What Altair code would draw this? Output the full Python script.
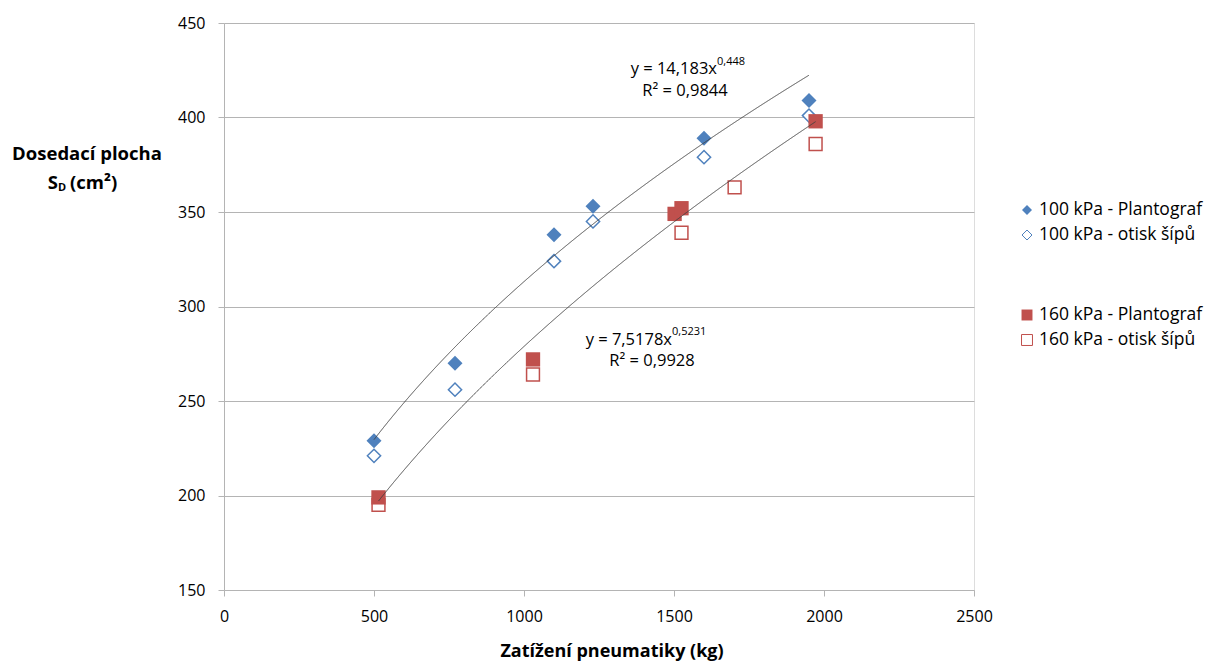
import altair as alt
import pandas as pd

# ---- data ----
x_100 = [500, 770, 1100, 1230, 1600, 1950]
y_100_plantograf = [229, 270, 338, 353, 389, 409]
y_100_otisk = [221, 256, 324, 345, 379, 401]

x_160_plantograf = [515, 1030, 1502, 1525, 1972]
y_160_plantograf = [199, 272, 349, 352, 398]
x_160_otisk = [515, 1030, 1525, 1702, 1972]
y_160_otisk = [195, 264, 339, 363, 386]

series_names = ["100 kPa - Plantograf", "100 kPa - otisk šípů",
                "160 kPa - Plantograf", "160 kPa - otisk šípů"]

# trendline equations shown in the chart (power fits)
trend_100 = {"a": 14.183, "b": 0.448, "x0": 500, "x1": 1950}
trend_160 = {"a": 7.5178, "b": 0.5231, "x0": 515, "x1": 1972}

x_ticks = [0, 500, 1000, 1500, 2000, 2500]
y_ticks = [150, 200, 250, 300, 350, 400, 450]

FONT = "Open Sans"
BLUE = "#4F81BD"
RED = "#C0504D"
GRID = "#B4B4B4"

rows = []
for x, y in zip(x_100, y_100_plantograf):
    rows.append({"x": x, "y": y, "s": series_names[0]})
for x, y in zip(x_100, y_100_otisk):
    rows.append({"x": x, "y": y, "s": series_names[1]})
for x, y in zip(x_160_plantograf, y_160_plantograf):
    rows.append({"x": x, "y": y, "s": series_names[2]})
for x, y in zip(x_160_otisk, y_160_otisk):
    rows.append({"x": x, "y": y, "s": series_names[3]})
df = pd.DataFrame(rows)

xscale = alt.Scale(domain=[0, 2500], nice=False, zero=False)
yscale = alt.Scale(domain=[150, 450], nice=False, zero=False)

xenc = alt.X("x:Q", scale=xscale, axis=alt.Axis(
    values=x_ticks, format="d", title=None, grid=False, domainColor=GRID, tickColor=GRID,
    tickSize=6, labelPadding=12, labelFontSize=16, labelFont=FONT,
    labelColor="#000000", domainWidth=1, labelFlush=False))
yenc = alt.Y("y:Q", scale=yscale, axis=alt.Axis(
    values=y_ticks, format="d", title=None, grid=True, gridColor=GRID, domainColor=GRID,
    tickColor=GRID, tickSize=6, labelPadding=13, labelFontSize=16,
    labelFont=FONT, labelColor="#000000", domainWidth=1, labelFlush=False))

base = alt.Chart(df)


def pts(name, shape, color, filled, size):
    return base.transform_filter(alt.datum.s == name).mark_point(
        shape=shape, filled=filled, color=color, size=size,
        fill=color if filled else "white", stroke=color,
        strokeWidth=0 if filled else 1.5, opacity=1
    ).encode(x=xenc, y=yenc)


p100o = pts(series_names[1], "diamond", BLUE, False, 175)
p160o = pts(series_names[3], "square", RED, False, 165)
p100p = pts(series_names[0], "diamond", BLUE, True, 225)
p160p = pts(series_names[2], "square", RED, True, 205)


def trend(t):
    return alt.Chart(alt.sequence(t["x0"], t["x1"] + 1, 1, as_="x")).transform_calculate(
        y=f"{t['a']} * pow(datum.x, {t['b']})"
    ).mark_line(color="#404040", strokeWidth=1).encode(
        x=alt.X("x:Q", scale=xscale), y=alt.Y("y:Q", scale=yscale))


l100 = trend(trend_100)
l160 = trend(trend_160)

one = alt.Data(values=[{}])


def txt(t, x, y, size=14, bold=False, align="left", baseline="middle"):
    return alt.Chart(one).mark_text(
        text=t, font=FONT, fontSize=size, fontWeight="bold" if bold else "normal",
        align=align, baseline=baseline, color="#000000"
    ).encode(x=alt.value(x), y=alt.value(y))


L = 224
T = 23
annots = [
    # trend equations
    txt("y = 14,183x", 717 - L, 69 - T, size=16.5, align="right"),
    txt("0,448", 717 - L, 62 - T, size=11, align="left"),
    txt("R² = 0,9844", 685 - L, 91 - T, size=16.5, align="center"),
    txt("y = 7,5178x", 672 - L, 340 - T, size=16.5, align="right"),
    txt("0,5231", 672 - L, 332 - T, size=11, align="left"),
    txt("R² = 0,9928", 652 - L, 361 - T, size=16.5, align="center"),
    # axis titles
    txt("Zatížení pneumatiky (kg)", 612 - L, 652 - T, size=18, bold=True, align="center"),
    txt("Dosedací plocha", 87 - L, 154 - T, size=18.5, bold=True, align="center"),
    txt("S", 58 - L, 183 - T, size=18.5, bold=True, align="right"),
    txt("D", 58 - L, 188 - T, size=11, bold=True, align="left"),
    txt("(cm²)", 70 - L, 183 - T, size=18.5, bold=True, align="left"),
]

# legend
leg_items = [
    (series_names[0], "diamond", BLUE, True, 210),
    (series_names[1], "diamond", BLUE, False, 235),
    (series_names[2], "square", RED, True, 315),
    (series_names[3], "square", RED, False, 340),
]
legend_layers = []
for name, shape, color, filled, yy in leg_items:
    legend_layers.append(
        alt.Chart(one).mark_point(
            shape=shape, filled=filled, size=100 if shape == "diamond" else 120,
            fill=color if filled else "white", stroke=color,
            strokeWidth=0 if filled else 1, opacity=1
        ).encode(x=alt.value(1027 - L), y=alt.value(yy - T)))
    legend_layers.append(txt(name, 1039 - L, yy - T, size=17.5))

chart = alt.layer(
    p100o, p160o, p100p, p160p, l100, l160, *annots, *legend_layers
).properties(
    width=750, height=567,
    padding={"left": L, "top": T, "right": 1212 - L - 750, "bottom": 663 - T - 567},
    autosize=alt.AutoSizeParams(type="none"),
).configure_view(stroke=None).configure(background="white")

chart.save("out.html", embed_options={"renderer": "svg", "actions": False})
